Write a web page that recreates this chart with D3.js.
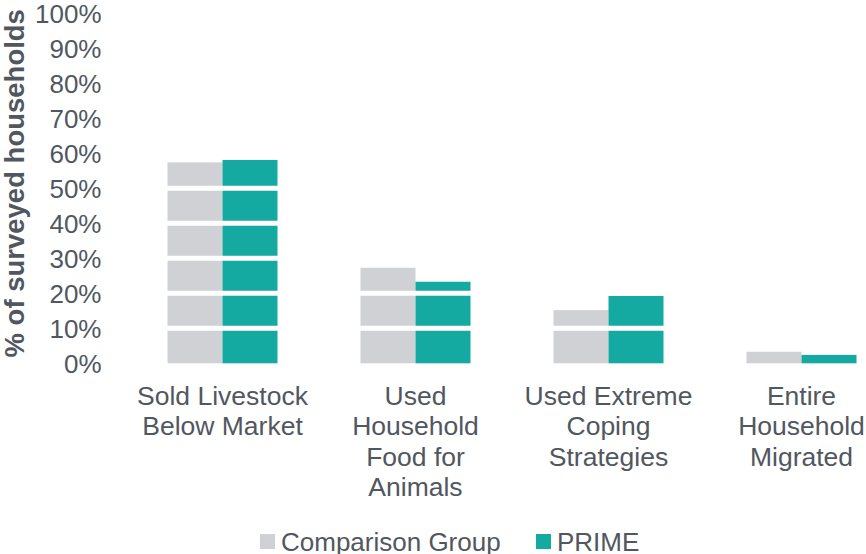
<!DOCTYPE html>
<html>
<head>
<meta charset="utf-8">
<script src="https://cdn.jsdelivr.net/npm/d3@7"></script>
<style>
  body { margin: 0; background: #fff; }
  text { font-family: "Liberation Sans", Arial, sans-serif; fill: #515760; }
</style>
</head>
<body>
<svg id="chart"></svg>
<script>
// chart data
const categories = [
    ["Sold Livestock", "Below Market"],
    ["Used", "Household", "Food for", "Animals"],
    ["Used Extreme", "Coping", "Strategies"],
    ["Entire", "Household", "Migrated"]
];
const seriesNames = ["Comparison Group", "PRIME"];
const comparisonValues = [0.574, 0.273, 0.152, 0.033];
const primeValues = [0.581, 0.233, 0.193, 0.024];
const yTicks = [0, 0.1, 0.2, 0.3, 0.4, 0.5, 0.6, 0.7, 0.8, 0.9, 1.0];
const colors = ["#d0d1d4", "#14a9a1"];

var dimensions = {
    width: 866,
    height: 554,
    margins: { top: 13.3, right: -32, bottom: 190.7, left: 126 }
};

var svg = d3.select("#chart")
    .attr("width", dimensions.width)
    .attr("height", dimensions.height);

var plotBottom = dimensions.height - dimensions.margins.bottom;
var plotRight = dimensions.width - dimensions.margins.right;

var yScale = d3.scaleLinear()
    .domain([0, 1])
    .range([plotBottom, dimensions.margins.top]);

var xScale = d3.scaleBand()
    .domain(d3.range(categories.length))
    .range([dimensions.margins.left, plotRight])
    .paddingInner(0.43)
    .paddingOuter(0.215);

var xSub = d3.scaleBand()
    .domain([0, 1])
    .range([0, xScale.bandwidth()]);

var rows = categories.map((c, i) => ({ i, values: [comparisonValues[i], primeValues[i]] }));

// bars
svg.append("g")
    .selectAll("g")
    .data(rows)
    .join("g")
    .attr("transform", d => `translate(${xScale(d.i)},0)`)
    .selectAll("rect")
    .data(d => d.values.map((v, k) => ({ v, k })))
    .join("rect")
    .attr("x", d => xSub(d.k))
    .attr("y", d => yScale(d.v))
    .attr("width", xSub.bandwidth())
    .attr("height", d => plotBottom - yScale(d.v))
    .attr("fill", d => colors[d.k]);

// white gridlines over the bars
svg.append("g")
    .selectAll("line")
    .data(yTicks.filter(t => t > 0))
    .join("line")
    .attr("x1", dimensions.margins.left)
    .attr("x2", plotRight)
    .attr("y1", d => yScale(d))
    .attr("y2", d => yScale(d))
    .attr("stroke", "#fff")
    .attr("stroke-width", 5);

// y axis
var yAxis = svg.append("g")
    .attr("transform", "translate(101.5,0)")
    .call(d3.axisLeft(yScale).tickValues(yTicks).tickFormat(d3.format(".0%")).tickSize(0).tickPadding(0));
yAxis.select(".domain").remove();
yAxis.selectAll("text")
    .attr("dy", "0.36em")
    .style("font-size", "26px")
    .attr("fill", "#515760");

// y axis label
svg.append("text")
    .attr("transform", `translate(23.5,${yScale(0.5) - 5}) rotate(-90)`)
    .style("text-anchor", "middle")
    .style("font-size", "27.5px")
    .style("font-weight", "bold")
    .text("% of surveyed households");

// x labels
svg.append("g")
    .selectAll("text")
    .data(categories)
    .join("text")
    .attr("x", (d, i) => xScale(i) + xScale.bandwidth() / 2)
    .attr("y", 405)
    .style("text-anchor", "middle")
    .style("font-size", "26.5px")
    .selectAll("tspan")
    .data(d => d)
    .join("tspan")
    .attr("x", function () { return this.parentNode.getAttribute("x"); })
    .attr("dy", (d, i) => i === 0 ? 0 : 30.3)
    .text(d => d);

// legend
var legendX = [260, 536];
var legend = svg.append("g")
    .selectAll("g")
    .data(seriesNames)
    .join("g")
    .attr("transform", (d, i) => `translate(${legendX[i]},534)`);
legend.append("rect")
    .attr("width", 15)
    .attr("height", 15)
    .attr("fill", (d, i) => colors[i]);
legend.append("text")
    .attr("x", 21)
    .attr("y", 17)
    .style("font-size", "26px")
    .text(d => d);
</script>
</body>
</html>
